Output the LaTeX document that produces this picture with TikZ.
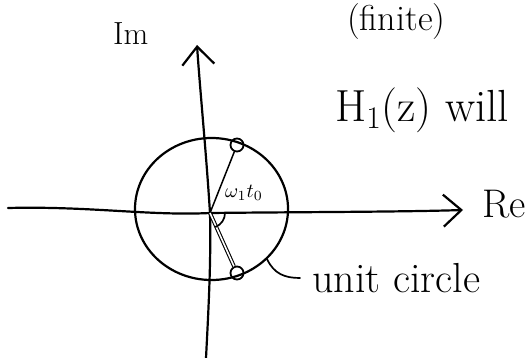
\RequirePackage{fix-cm}
\documentclass[tikz,border=0pt]{standalone}
\usetikzlibrary{arrows.meta}
\begin{document}
\begin{tikzpicture}[x=1pt,y=-1pt,
  ink/.style={line width=2.2pt,line cap=round,line join=round},
  axisarrow/.style={ink,-{Straight Barb[length=18pt,width=32pt,line width=2.2pt]}},
  pole/.style={circle,draw,line width=1.8pt,minimum size=13pt,inner sep=0pt},
  hand/.style={inner sep=0pt,font=\fontsize{40}{40}\selectfont}]
\useasboundingbox (0,0) rectangle (527,358);
% axes
\coordinate (O) at (210,213);
\coordinate (xl) at (8,208);
\coordinate (xr) at (463,210);
\coordinate (yt) at (197,45);
\coordinate (yb) at (206,358);
\draw[ink] (xl) .. controls (90,206) and (150,216) .. (O);
\draw[axisarrow] (O) .. controls (300,212) and (400,212) .. (xr);
\draw[ink] (yb) .. controls (209,300) and (211,260) .. (O);
\draw[axisarrow] (O) .. controls (206,150) and (200,90) .. (yt);
% unit circle
\draw[ink] (211.5,209) ellipse [x radius=76.5pt, y radius=71pt];
% poles
\node[pole] (p1) at (237,145) {};
\node[pole] (p2) at (237,273) {};
\draw[ink,line width=1.5pt] (O) -- (p1);
\draw[line width=1.1pt,double,double distance=1.6pt] (O) -- (p2);
% angle
\draw[ink,line width=1.7pt] (O) ++(15,0) arc (0:-68:15pt);
\node[inner sep=0pt,scale=2.0,font=\normalsize] (w) at (244,193) {$\omega_1 t_0$};
% labels
\node[hand,anchor=base west] (re) at (482,218) {Re};
\node[hand,anchor=base west,font=\fontsize{32}{32}\selectfont] (im) at (113,45) {Im};
\node[hand,anchor=base west,font=\fontsize{42}{42}\selectfont] (uc) at (312,292) {unit circle};
\coordinate (lc) at (267,259);
\coordinate (le) at (300,278);
\draw[ink,line width=1.7pt] (lc) .. controls (274,274) and (285,278) .. (le);
\node[hand,anchor=base west,font=\fontsize{36}{36}\selectfont] (fin) at (347,31) {(finite)};
\node[hand,anchor=base west,font=\fontsize{45}{45}\selectfont] (h) at (335,122) {H\textsubscript{1}(z) will};
\end{tikzpicture}
\end{document}
